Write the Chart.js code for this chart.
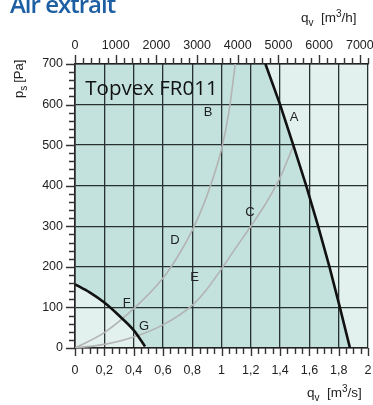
<!DOCTYPE html>
<html>
<head>
<meta charset="utf-8">
<script src="https://cdn.jsdelivr.net/npm/chart.js@4/dist/chart.umd.min.js"></script>
<style>
  body { margin: 0; background: #fff; }
  #wrap { position: relative; width: 373px; height: 405px; overflow: hidden; background: #fff; }
  #chart { position: absolute; left: 0; top: 0; }
  .lbl { position: absolute; font-family: 'Liberation Sans', Arial, sans-serif; color: #222; white-space: nowrap; }
  .lbl sub { font-size: 10px; vertical-align: -4px; }
  .lbl sup { font-size: 10px; vertical-align: 5px; }
  #title { position: absolute; left: 10px; top: -10px; font-family: 'Open Sans', sans-serif; font-weight: 600;
           font-size: 24px; line-height: 28px; letter-spacing: -1px; color: #1d5fa2; white-space: nowrap; }
  #qh { left: 301px; top: 8px; font-size: 13.5px; }
  #qs { left: 307px; top: 383px; font-size: 13.5px; }
</style>
</head>
<body>
<div id="wrap">
  <canvas id="chart" width="373" height="405"></canvas>
  <div id="title">Air extrait</div>
  <div class="lbl" id="qh">q<sub>v</sub>&nbsp; [m<sup>3</sup>/h]</div>
  <div class="lbl" id="qs">q<sub>v</sub>&nbsp; [m<sup>3</sup>/s]</div>
</div>
<script>
// axis ranges
const qMax = 2;          // m3/s
const pMax = 700;        // Pa
const qStep = 0.2;
const pStep = 100;
const qMinorStep = 0.05;
const pMinorStep = 20;
const qhMax = qMax * 3600;   // m3/h on top axis
const qhStep = 1000;
const qhMinorStep = 200;

// fan curve at max speed (A)
const curveA_q = [1.30, 1.40, 1.49, 1.578, 1.66, 1.737, 1.808, 1.877];
const curveA_p = [700, 600, 500, 400, 300, 200, 100, 0];

// fan curve at min speed (F-G)
const fanLow_q = [0, 0.1, 0.2, 0.3, 0.4, 0.478];
const fanLow_p = [157, 137, 112, 80, 44, 4];

// grey curves
const sys1_q = [0, 0.2, 0.41, 0.6, 0.7, 0.8, 0.9, 1.0, 1.05, 1.094];
const sys1_p = [0, 38, 100, 172, 225, 290, 375, 490, 580, 700];
const sys2_q = [0, 0.2, 0.4, 0.6, 0.8, 0.9, 1.0, 1.1, 1.2, 1.3, 1.4, 1.49];
const sys2_p = [0, 9, 27, 57, 105, 145, 195, 248, 300, 355, 420, 498];

// letters on the chart
const letterNames = ['A', 'B', 'C', 'D', 'E', 'F', 'G'];
const letterQ = [1.495, 0.908, 1.195, 0.683, 0.816, 0.353, 0.471];
const letterP = [568, 581, 333, 266, 175, 110, 52];

const modelName = 'Topvex FR011';
const modelQ = 0.07;
const modelP = 623;

const darkZone = '#c3e2dd';
const lightZone = '#e3f1ee';
const gridColor = '#263130';

function toPoints(qs, ps) {
    return qs.map((q, i) => ({ x: q, y: ps[i] }));
}

function fmtComma(v) {
    return (Math.round(v * 10) / 10).toString().replace('.', ',');
}

// tick marks outside the plot, top axis labels, letters and model name
const decorPlugin = {
    id: 'decor',
    afterDatasetsDraw(chart) {
        const ctx = chart.ctx;
        const xs = chart.scales.x, ys = chart.scales.y;
        ctx.save();
        ctx.fillStyle = '#222';
        ctx.font = '13px "Liberation Sans", Arial, sans-serif';
        ctx.textAlign = 'center';
        ctx.textBaseline = 'middle';
        letterNames.forEach((n, i) => {
            ctx.fillText(n, xs.getPixelForValue(letterQ[i]), ys.getPixelForValue(letterP[i]));
        });
        ctx.fillStyle = '#111';
        ctx.font = '20.5px "Open Sans", sans-serif';
        ctx.textAlign = 'left';
        ctx.textBaseline = 'alphabetic';
        ctx.fillText(modelName, xs.getPixelForValue(modelQ), ys.getPixelForValue(modelP));
        ctx.restore();
    },
    afterDraw(chart) {
        const ctx = chart.ctx;
        const area = chart.chartArea;
        const xs = chart.scales.x, ys = chart.scales.y, x2 = chart.scales.x2;
        ctx.save();
        ctx.strokeStyle = '#333';
        ctx.lineWidth = 1.4;
        ctx.beginPath();
        for (let i = 0; i <= Math.round(qMax / qMinorStep); i++) {
            const px = Math.round(xs.getPixelForValue(i * qMinorStep)) + 0.5;
            const len = (i % 4 === 0) ? 8 : 6;
            ctx.moveTo(px, area.bottom);
            ctx.lineTo(px, area.bottom + len);
        }
        for (let i = 0; i <= Math.round(pMax / pMinorStep); i++) {
            const py = Math.round(ys.getPixelForValue(i * pMinorStep)) + 0.5;
            const len = (i % 5 === 0) ? 9 : 6;
            ctx.moveTo(area.left, py);
            ctx.lineTo(area.left - len, py);
        }
        for (let v = 0; v <= qhMax; v += qhMinorStep) {
            const px = Math.round(x2.getPixelForValue(v)) + 0.5;
            const len = (v % qhStep === 0) ? 9 : 6;
            ctx.moveTo(px, area.top);
            ctx.lineTo(px, area.top - len);
        }
        ctx.stroke();

        // top axis labels (m3/h)
        ctx.fillStyle = '#222';
        ctx.font = '12.5px "Liberation Sans", Arial, sans-serif';
        ctx.textAlign = 'center';
        ctx.textBaseline = 'alphabetic';
        for (let v = 0; v <= qhMax; v += qhStep) {
            ctx.fillText(String(v), x2.getPixelForValue(v), area.top - 15);
        }

        // vertical axis title p_s [Pa]
        ctx.translate(23, 98);
        ctx.rotate(-Math.PI / 2);
        ctx.textAlign = 'left';
        ctx.font = '13px "Liberation Sans", Arial, sans-serif';
        ctx.fillText('p', 0, 0);
        let w = ctx.measureText('p').width;
        ctx.font = '10px "Liberation Sans", Arial, sans-serif';
        ctx.fillText('s', w, 4);
        w += ctx.measureText('s').width + 3;
        ctx.font = '13px "Liberation Sans", Arial, sans-serif';
        ctx.fillText('[Pa]', w, 0);
        ctx.restore();
    }
};

const tickFont = { family: '"Liberation Sans", Arial, sans-serif', size: 12.5 };

new Chart(document.getElementById('chart').getContext('2d'), {
    type: 'line',
    data: {
        datasets: [
            {
                // light background of the plot
                data: [{ x: 0, y: pMax }, { x: qMax, y: pMax }],
                fill: 'start',
                backgroundColor: lightZone,
                borderWidth: 0,
                pointRadius: 0,
                order: 10
            },
            {
                // working zone, left of curve A
                data: [{ x: 0, y: pMax }].concat(toPoints(curveA_q, curveA_p)),
                fill: 'start',
                backgroundColor: darkZone,
                borderWidth: 0,
                pointRadius: 0,
                tension: 0,
                order: 9
            },
            {
                data: toPoints(sys1_q, sys1_p),
                borderColor: '#b3b3b3',
                borderWidth: 1.6,
                pointRadius: 0,
                cubicInterpolationMode: 'monotone',
                fill: false,
                order: 3
            },
            {
                data: toPoints(sys2_q, sys2_p),
                borderColor: '#b3b3b3',
                borderWidth: 1.6,
                pointRadius: 0,
                cubicInterpolationMode: 'monotone',
                fill: false,
                order: 3
            },
            {
                data: toPoints(fanLow_q, fanLow_p),
                borderColor: '#111',
                borderWidth: 2.6,
                pointRadius: 0,
                cubicInterpolationMode: 'monotone',
                fill: 'start',
                backgroundColor: lightZone,
                order: 1
            },
            {
                data: toPoints(curveA_q, curveA_p),
                borderColor: '#111',
                borderWidth: 2.6,
                pointRadius: 0,
                tension: 0,
                fill: false,
                order: 1
            }
        ]
    },
    options: {
        responsive: false,
        animation: false,
        layout: { autoPadding: false, padding: { top: 28, right: 5, left: 0, bottom: 0 } },
        plugins: {
            legend: { display: false },
            tooltip: { enabled: false },
            filler: { drawTime: 'beforeDraw' }
        },
        scales: {
            x: {
                type: 'linear',
                position: 'bottom',
                min: 0,
                max: qMax,
                ticks: {
                    stepSize: qStep,
                    color: '#222',
                    font: tickFont,
                    padding: 15,
                    maxRotation: 0,
                    autoSkip: false,
                    callback: (v) => fmtComma(v)
                },
                grid: { color: gridColor, lineWidth: 1.3, drawTicks: false },
                border: { display: true, color: '#222', width: 1.6 },
                afterFit(s) { s.height = 57; s.paddingLeft = 0; s.paddingRight = 0; }
            },
            x2: {
                type: 'linear',
                position: 'top',
                min: 0,
                max: qhMax,
                ticks: { display: false },
                grid: { display: false, drawTicks: false },
                border: { display: true, color: '#222', width: 1.6 },
                afterFit(s) { s.height = 36; s.paddingLeft = 0; s.paddingRight = 0; }
            },
            y: {
                type: 'linear',
                min: 0,
                max: pMax,
                ticks: {
                    stepSize: pStep,
                    color: '#222',
                    font: tickFont,
                    padding: 12
                },
                grid: { color: gridColor, lineWidth: 1.3, drawTicks: false },
                border: { display: true, color: '#222', width: 1.6 },
                afterFit(s) { s.width = 75; s.paddingTop = 0; s.paddingBottom = 0; }
            }
        }
    },
    plugins: [decorPlugin]
});
</script>
</body>
</html>
